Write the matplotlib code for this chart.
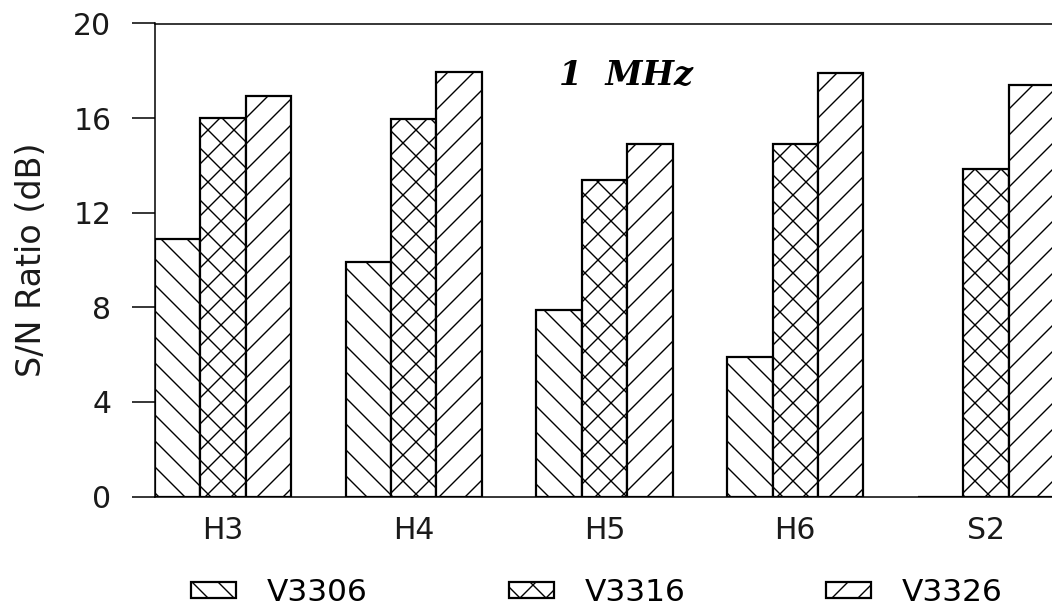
import matplotlib
matplotlib.use("Agg")
import matplotlib.pyplot as plt
import numpy as np

categories = ["H3", "H4", "H5", "H6", "S2"]
series_names = ["V3306", "V3316", "V3326"]
v3306 = [10.9, 9.9, 7.9, 5.9, 0]
v3316 = [16.0, 15.95, 13.4, 14.9, 13.85]
v3326 = [16.95, 17.95, 14.9, 17.9, 17.4]
yticks = [0, 4, 8, 12, 16, 20]

# render at 78 dpi so that the hatch spacing matches the reference (~13 px);
# all point sizes are scaled so they give the same pixel sizes as at 100 dpi
DPI = 78
S = 100.0 / DPI
FS = 21.5 * S
plt.rcParams['hatch.linewidth'] = 1.0 * S
plt.rcParams['font.family'] = ['DejaVu Sans']
fig = plt.figure(figsize=(1052 / DPI, 610 / DPI), dpi=DPI)
ax = fig.add_axes([155 / 1052, 1 - 496.5 / 610, 1 - 155 / 1052, (496.5 - 23.5) / 610])

x = np.arange(len(categories))
w = 0.2385
hatches = ['\\', 'x', '/']
handles = []
for i, (vals, name) in enumerate(zip([v3306, v3316, v3326], series_names)):
    bars = ax.bar(x + (i - 1) * w, vals, width=w, facecolor='white',
                  edgecolor='black', linewidth=1.6 * S, hatch=hatches[i], label=name)
    handles.append(bars)

ax.set_xlim(-0.3565, 4.346)
ax.set_ylim(0, 20)
ax.set_yticks(yticks)
ax.set_yticklabels([str(t) for t in yticks], fontsize=FS, color='#1a1a1a')
ax.set_xticks(x)
ax.set_xticklabels(categories, fontsize=FS, color='#1a1a1a')
ax.tick_params(axis='y', direction='out', length=16.5 * S, width=1.1 * S, pad=15 * S)
ax.tick_params(axis='x', length=0, pad=14 * S)
ax.spines['right'].set_visible(False)
for s in ['left', 'top', 'bottom']:
    ax.spines[s].set_linewidth(1.1 * S)
ax.set_ylabel("S/N Ratio (dB)", fontsize=24 * S, color='#1a1a1a', labelpad=18 * S)

ax.text(0.525, 0.891, "1  MHz", transform=ax.transAxes, ha='center', va='center',
        fontsize=24 * S, fontstyle='italic', fontweight='bold', family='DejaVu Serif')

leg = fig.legend(handles=handles, labels=series_names, loc='center',
                 bbox_to_anchor=(597 / 1052, 0.028), ncol=3, frameon=False,
                 fontsize=22.5 * S,
                 columnspacing=4.5, handlelength=1.44, handleheight=0.42,
                 handletextpad=0.99, borderpad=0, borderaxespad=0)

fig.savefig("out.png", dpi=DPI)
